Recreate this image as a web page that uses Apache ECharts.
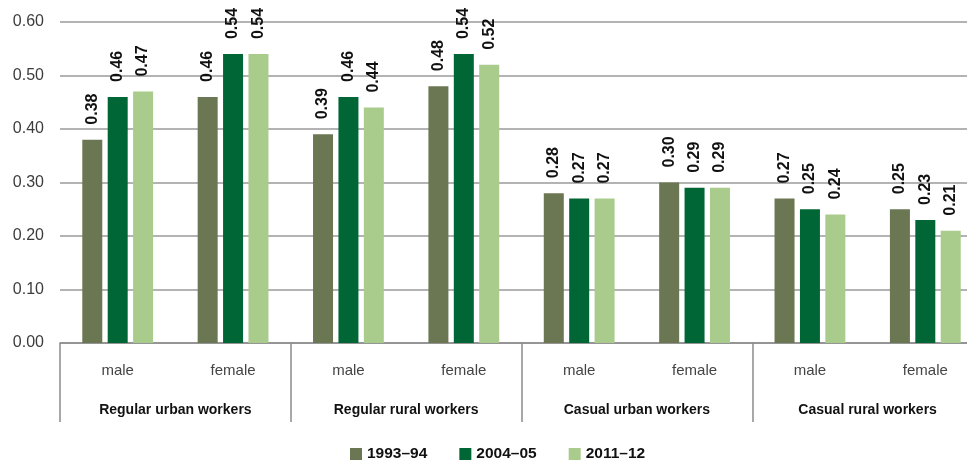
<!DOCTYPE html>
<html>
<head>
<meta charset="utf-8">
<script src="https://cdn.jsdelivr.net/npm/echarts@6/dist/echarts.min.js"></script>
<style>
  html, body { margin: 0; padding: 0; background: #ffffff; overflow: hidden; }
  #wrap { width: 967px; height: 461px; overflow: hidden; }
  /* the plot area runs 16px past the visible right edge */
  #chart { width: 983px; height: 461px; }
</style>
</head>
<body>
<div id="wrap"><div id="chart"></div></div>
<script>
// Worker categories (sex within each worker type)
const categories = ['male', 'female', 'male', 'female', 'male', 'female', 'male', 'female'];
const groups = ['Regular urban workers', 'Regular rural workers', 'Casual urban workers', 'Casual rural workers'];
const years = ['1993\u201394', '2004\u201305', '2011\u201312'];

// Values per survey round
const values1993 = [0.38, 0.46, 0.39, 0.48, 0.28, 0.30, 0.27, 0.25];
const values2004 = [0.46, 0.54, 0.46, 0.54, 0.27, 0.29, 0.25, 0.23];
const values2011 = [0.47, 0.54, 0.44, 0.52, 0.27, 0.29, 0.24, 0.21];

// Y-axis ticks
const yMin = 0, yMax = 0.6, yStep = 0.1;

const colors = ['#6b7652', '#006635', '#a9cc8c'];
const FONT = '"Liberation Sans", Arial, sans-serif';

const chart = echarts.init(document.getElementById('chart'), null, { renderer: 'canvas' });

function barSeries(name, data, color) {
  return {
    name: name,
    type: 'bar',
    data: data,
    barWidth: 20,
    barGap: '27%',
    itemStyle: { color: color },
    label: {
      show: true,
      position: 'top',
      rotate: 90,
      align: 'left',
      verticalAlign: 'middle',
      distance: 15,
      fontFamily: FONT,
      fontWeight: 'bold',
      fontSize: 16,
      color: '#111111',
      formatter: p => p.value.toFixed(2)
    }
  };
}

chart.setOption({
  animation: false,
  backgroundColor: '#ffffff',
  color: colors,
  grid: { left: 60, right: 0, top: 22, bottom: 118, containLabel: false },
  legend: {
    data: years,
    left: 350,
    top: 446,
    padding: 0,
    itemWidth: 12,
    itemHeight: 12,
    itemGap: 32,
    icon: 'rect',
    textStyle: { fontFamily: FONT, fontWeight: 'bold', fontSize: 15.5, color: '#111111' }
  },
  xAxis: [
    {
      type: 'category',
      data: categories,
      position: 'bottom',
      axisLine: { show: true, lineStyle: { color: '#8c8c8c', width: 1.5 } },
      axisTick: {
        show: true,
        interval: (index) => index % 2 === 0,
        length: 79,
        lineStyle: { color: '#8c8c8c', width: 1.5 }
      },
      axisLabel: {
        interval: 0,
        margin: 20,
        fontFamily: FONT,
        fontSize: 15,
        color: '#444444'
      }
    },
    {
      type: 'category',
      data: groups,
      position: 'bottom',
      axisLine: { show: false },
      axisTick: { show: false },
      axisLabel: {
        interval: 0,
        margin: 60,
        fontFamily: FONT,
        fontWeight: 'bold',
        fontSize: 14,
        color: '#111111'
      }
    }
  ],
  yAxis: {
    type: 'value',
    min: yMin,
    max: yMax,
    interval: yStep,
    axisLine: { show: false },
    axisTick: { show: false },
    splitLine: { show: true, lineStyle: { color: '#9a9a9a', width: 1.5 } },
    axisLabel: {
      margin: 16,
      fontFamily: FONT,
      fontSize: 16,
      color: '#3c3c3c',
      formatter: v => v.toFixed(2)
    }
  },
  series: [
    barSeries(years[0], values1993, colors[0]),
    barSeries(years[1], values2004, colors[1]),
    barSeries(years[2], values2011, colors[2])
  ]
});
</script>
</body>
</html>
